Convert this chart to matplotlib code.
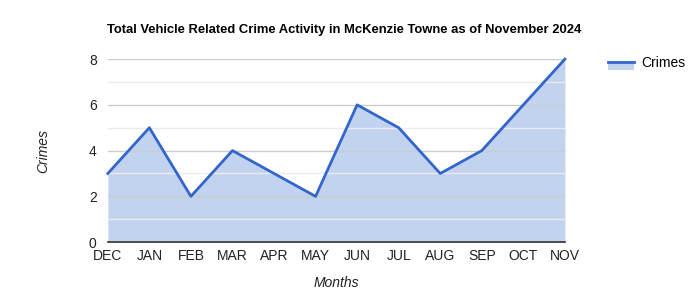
import matplotlib.pyplot as plt
from matplotlib.lines import Line2D
from matplotlib.patches import Rectangle
from matplotlib.legend_handler import HandlerBase

months = ['DEC', 'JAN', 'FEB', 'MAR', 'APR', 'MAY', 'JUN', 'JUL', 'AUG', 'SEP', 'OCT', 'NOV']
crimes = [3, 5, 2, 4, 3, 2, 6, 5, 3, 4, 6, 8]

line_color = '#3366cc'
fill_color = '#c2d3f0'

plt.rcParams['font.family'] = ['Liberation Sans', 'DejaVu Sans']


class AreaHandler(HandlerBase):
    # line on top, filled area below it, like the area-chart legend key
    def create_artists(self, legend, orig_handle, xdescent, ydescent, width, height, fontsize, trans):
        yc = height / 2 - ydescent
        r = Rectangle((-xdescent, yc - height * 0.8), width, height * 0.8,
                      facecolor=fill_color, edgecolor='none', transform=trans)
        l = Line2D([-xdescent, -xdescent + width], [yc, yc], color=line_color, linewidth=2, transform=trans)
        return [r, l]


fig = plt.figure(figsize=(7, 3), dpi=100)
ax = fig.add_axes([0.154, 0.193, 0.653, 0.61])

x = list(range(len(months)))
ax.fill_between(x, crimes, 0, color=fill_color, linewidth=0, zorder=1)
ax.plot(x, crimes, color=line_color, linewidth=2, zorder=3, clip_on=False)

ax.set_xlim(0, len(months) - 1)
ax.set_ylim(0, 8)
ax.set_xticks(x)
ax.set_xticklabels(months)
ax.set_yticks([0, 2, 4, 6, 8])
ax.set_yticks([1, 3, 5, 7], minor=True)
ax.tick_params(axis='both', which='both', length=0, labelsize=10, colors='#222222', pad=5)
ax.tick_params(axis='y', pad=8)
ax.grid(axis='y', which='major', color='#cccccc', linewidth=1, zorder=2)
ax.grid(axis='y', which='minor', color='#ebebeb', linewidth=1, zorder=2)
ax.set_axisbelow(False)
for s in ['top', 'right', 'left']:
    ax.spines[s].set_visible(False)
ax.spines['bottom'].set_color('#333333')
ax.spines['bottom'].set_linewidth(1.2)
ax.spines['bottom'].set_zorder(4)

ax.set_ylabel('Crimes', fontsize=10, style='italic', color='#222222', labelpad=28)
ax.set_xlabel('Months', fontsize=10, style='italic', color='#222222', labelpad=9)

fig.text(0.153, 0.9, 'Total Vehicle Related Crime Activity in McKenzie Towne as of November 2024',
         fontsize=9.4, fontweight='bold', color='#000000', va='center')

leg = fig.legend([object()], ['Crimes'], loc='upper left', bbox_to_anchor=(0.851, 0.855),
                 frameon=False, fontsize=10, handlelength=1.85, handletextpad=0.5,
                 handler_map={object: AreaHandler()})

plt.savefig('out.png', dpi=100)
plt.close()
